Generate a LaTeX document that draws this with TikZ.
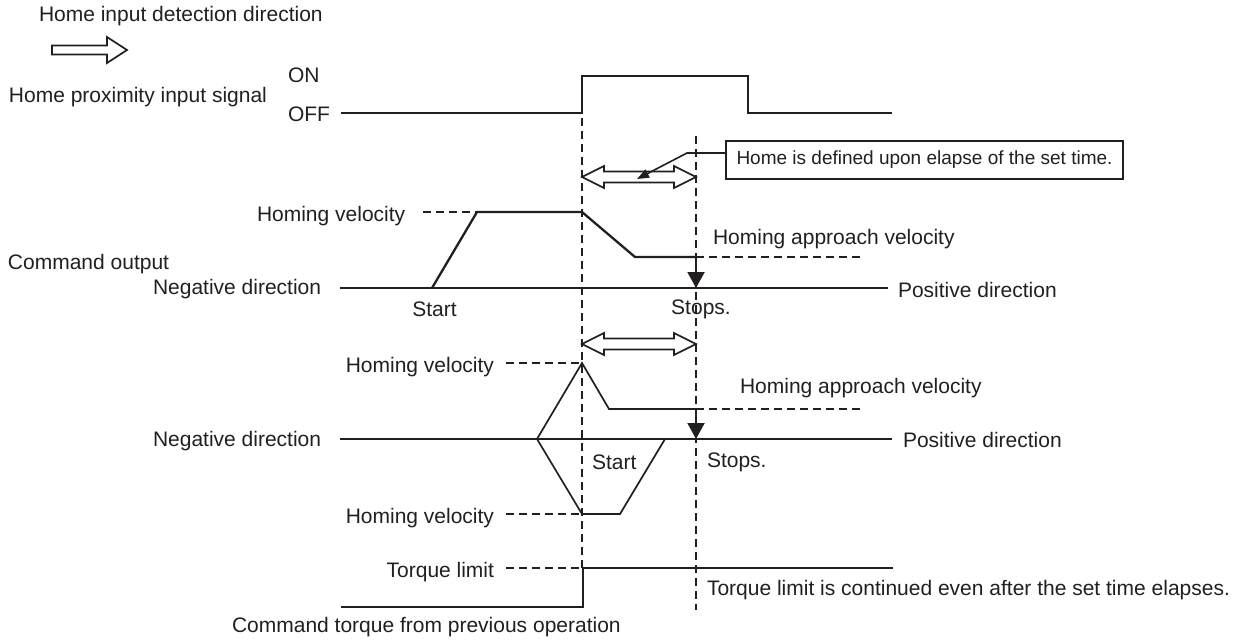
\documentclass[tikz,border=0pt]{standalone}
\usepackage{fontspec}
\setmainfont{Liberation Sans}
\usetikzlibrary{arrows.meta}
\definecolor{ink}{RGB}{35,31,32}
\begin{document}
\begin{tikzpicture}[x=1pt,y=-1pt,
  every node/.style={inner sep=0pt,outer sep=0pt,text=ink,font=\fontsize{21pt}{25pt}\selectfont},
  lbl/.style={anchor=west},
  lble/.style={anchor=east},
  wave/.style={draw=ink,line width=2.3pt,line join=miter},
  thinwave/.style={draw=ink,line width=1.7pt,line join=miter},
  axis/.style={draw=ink,line width=2pt},
  guide/.style={draw=ink,line width=1.6pt,dash pattern=on 8pt off 5pt},
  hollow/.style={draw=ink,fill=white,line width=1.7pt,line join=miter},
  stoparrow/.style={draw=ink,line width=2pt,-{Triangle[length=16pt,width=17pt]}},
  leader/.style={draw=ink,line width=1.6pt,-{Triangle[length=12pt,width=9pt]}},
  notebox/.style={draw=ink,line width=2pt,fill=white,minimum width=397pt,minimum height=37.5pt,anchor=north west,font=\fontsize{19pt}{23pt}\selectfont}
]
\useasboundingbox (0,0) rectangle (1258,643);

% ---------- header ----------
\node[lbl] (title) at (39,16) {Home input detection direction};
\draw[hollow] (52,45.5) -- (107,45.5) -- (107,37) -- (127,50) -- (107,63) -- (107,54.5) -- (52,54.5) -- cycle;

% ---------- proximity signal ----------
\node[lbl] (on) at (288,75) {ON};
\node[lbl] (off) at (288,114) {OFF};
\node[lbl] (prox) at (9,97) {Home proximity input signal};
\coordinate (s0) at (341,113);
\coordinate (s1) at (582,113);
\coordinate (s2) at (582,76);
\coordinate (s3) at (748,76);
\coordinate (s4) at (748,113);
\coordinate (s5) at (892,113);
\draw[wave] (s0) -- (s1) -- (s2) -- (s3) -- (s4) -- (s5);

% ---------- guide verticals ----------
\coordinate (g1a) at (582,118);
\coordinate (g1b) at (582,568);
\coordinate (g2a) at (696,136);
\coordinate (g2b) at (696,610);
\draw[guide] (g1a) -- (g1b);
\draw[guide] (g2a) -- (g2b);

% ---------- set time double arrows ----------
\foreach \yy in {177,344}{
  \draw[hollow] (582,\yy) -- (604,\yy-11) -- (604,\yy-5.5) -- (674,\yy-5.5) -- (674,\yy-11) -- (696,\yy)
     -- (674,\yy+11) -- (674,\yy+5.5) -- (604,\yy+5.5) -- (604,\yy+11) -- cycle;
}

% ---------- note box ----------
\node[notebox] (note) at (726,141) {Home is defined upon elapse of the set time.};
\coordinate (l0) at (726,153);
\coordinate (l1) at (687,153);
\coordinate (l2) at (637,179);
\draw[leader] (l0) -- (l1) -- (l2);

% ---------- command output ----------
\node[lbl] (cmdout) at (8,264) {Command output};
\node[lbl] (hv1) at (257,216) {Homing velocity};
\node[lbl] (neg1) at (153,289) {Negative direction};
\node[lbl] (pos1) at (898,290) {Positive direction};
\node[lbl] (hav1) at (713,239) {Homing approach velocity};
\node (start1) at (434.5,309) {Start};
\node (stop1) at (701,309) {Stops.};
\coordinate (a1l) at (340,288);
\coordinate (a1r) at (888,288);
\draw[axis] (a1l) -- (a1r);
\draw[guide] (423,212) -- (477,212);
\coordinate (c0) at (432,288);
\coordinate (c1) at (477,212);
\coordinate (c2) at (582,212);
\coordinate (c3) at (635,257);
\coordinate (c4) at (696,257);
\coordinate (c5) at (696,288);
\draw[wave] (c0) -- (c1) -- (c2) -- (c3) -- (c4);
\draw[stoparrow] (c4) -- (c5);
\coordinate (d1) at (863,257);
\draw[guide] (c4) -- (d1);

% ---------- torque control ----------
\node[lble] (hv2) at (494,367) {Homing velocity};
\node[lble] (hv3) at (494,518) {Homing velocity};
\node[lble] (tl) at (494,572) {Torque limit};
\node[lbl] (neg2) at (153,441) {Negative direction};
\node[lbl] (pos2) at (903,440) {Positive direction};
\node[lbl] (hav2) at (740,388) {Homing approach velocity};
\node[lbl] (start2) at (592,462) {Start};
\node[lbl] (stop2) at (707,462) {Stops.};
\coordinate (a2l) at (340,439);
\coordinate (a2r) at (892,439);
\draw[axis] (a2l) -- (a2r);
\coordinate (t0) at (537,439);
\coordinate (t1) at (582,363);
\coordinate (t2) at (609,409);
\coordinate (t3) at (696,409);
\coordinate (t4) at (696,439);
\draw[thinwave] (t0) -- (t1) -- (t2) -- (t3);
\draw[stoparrow] (t3) -- (t4);
\draw[guide] (506,363) -- (t1);
\draw[guide] (t3) -- (863,409);
\coordinate (b1) at (582,514);
\coordinate (b2) at (620,514);
\coordinate (b3) at (665,439);
\draw[thinwave] (t0) -- (b1) -- (b2) -- (b3);
\draw[guide] (506,514) -- (b1);

% ---------- torque limit ----------
\coordinate (q0) at (341,607);
\coordinate (q1) at (583,607);
\coordinate (q2) at (583,568);
\coordinate (q3) at (893,568);
\draw[wave] (q0) -- (q1) -- (q2) -- (q3);
\draw[guide] (506,568) -- (q2);
\node[lbl] (tlc) at (707,590) {Torque limit is continued even after the set time elapses.};
\node[lbl] (prev) at (232,627) {Command torque from previous operation};
\end{tikzpicture}
\end{document}
